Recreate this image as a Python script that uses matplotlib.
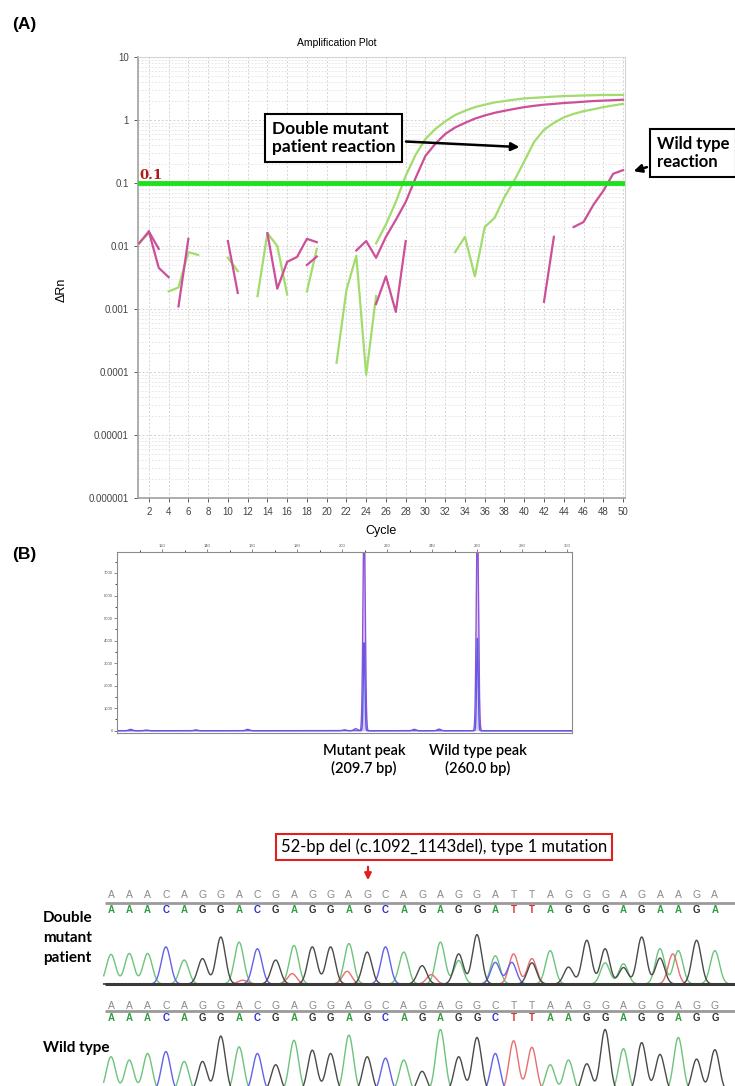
import matplotlib
matplotlib.use("Agg")
import matplotlib.pyplot as plt
import numpy as np

plt.rcParams['font.family'] = ['Liberation Sans', 'DejaVu Sans']

W, H = 735, 1086

def rect(l, t, r, b):  # pixel box -> figure fraction
    return [l / W, 1 - b / H, (r - l) / W, (b - t) / H]

def fx(x):
    return x / W

def fy(y):
    return 1 - y / H

################################################ (A) amplification plot data
threshold = 0.1
# (start cycle, dRn values) -- pieces left after negative values drop out of log axis
green_segs = [
    (1, [0.011, 0.016]),
    (4, [0.0019, 0.0022, 0.008, 0.0072]),
    (10, [0.0065, 0.004]),
    (13, [0.0016, 0.016, 0.01, 0.0017]),
    (18, [0.0019, 0.009]),
    (21, [0.00014, 0.002, 0.007, 0.00009, 0.0016]),
    (25, [0.011, 0.022, 0.05, 0.13, 0.28, 0.5, 0.72, 0.95, 1.2, 1.4, 1.6, 1.75, 1.9,
          2.0, 2.1, 2.2, 2.25, 2.3, 2.35, 2.4, 2.42, 2.45, 2.47, 2.5, 2.5, 2.5]),
    (33, [0.008, 0.014, 0.0033, 0.02, 0.028, 0.06, 0.11, 0.22, 0.45, 0.7, 0.9, 1.1,
          1.25, 1.38, 1.48, 1.6, 1.7, 1.8]),
]
pink_segs = [
    (1, [0.011, 0.017, 0.009]),
    (2, [0.017, 0.0045, 0.0032]),
    (5, [0.0011, 0.013]),
    (10, [0.012, 0.0018]),
    (14, [0.016, 0.0021, 0.0056, 0.0067, 0.013, 0.0115]),
    (18, [0.005, 0.0068]),
    (23, [0.0085, 0.012, 0.0065, 0.014, 0.026, 0.05, 0.12, 0.27, 0.42, 0.6, 0.76, 0.9,
          1.05, 1.18, 1.3, 1.4, 1.5, 1.6, 1.68, 1.75, 1.8, 1.86, 1.9, 1.95, 2.0, 2.03,
          2.06, 2.1]),
    (25, [0.0012, 0.0033, 0.0009, 0.012]),
    (42, [0.0013, 0.014]),
    (45, [0.02, 0.024, 0.045, 0.075, 0.14, 0.16]),
]
a_xticks = list(range(2, 51, 2))
a_yticks = [1e-6, 1e-5, 1e-4, 1e-3, 1e-2, 1e-1, 1, 10]
a_ylabels = ['0.000001', '0.00001', '0.0001', '0.001', '0.01', '0.1', '1', '10']

################################################ (B) fragment analysis data
peak_bp = [209.7, 260.0]
peak_top = [9500, 9500]          # runs off the top of the frame
peak_blue = [3900, 4100]
bump_bp = [106, 113, 135, 158, 201, 206, 232, 243]
bump_h = [60, 30, 40, 60, 40, 90, 60, 70]
b_xticks = list(range(120, 301, 20))
b_yticks = list(range(0, 7001, 1000))

################################################ (C) sequencing data
mut_calls = "AAACAGGACGAGGAGCAGAGGATTAGGGAGAAGA"
mut_hgt = [0.63, 0.65, 0.65, 0.79, 0.51, 0.54, 1.0, 0.89, 0.75, 0.51, 0.82, 0.79, 0.79,
           0.86, 0.68, 0.79, 0.68, 0.39, 0.89, 0.64, 1.05, 0.6, 0.64, 0.54, 0.71, 0.36,
           0.93, 0.75, 0.43, 1.0, 0.75, 0.71, 0.93, 0.71]
mut_extra_pos = [7.2, 9.9, 12.9, 17.5, 19.0, 21.0, 21.9, 23.0, 27.0, 28.0, 30.0, 30.7]
mut_extra_base = ['T', 'T', 'T', 'T', 'A', 'C', 'C', 'G', 'A', 'G', 'G', 'T']
mut_extra_hgt = [0.08, 0.22, 0.27, 0.2, 0.5, 0.46, 0.46, 0.45, 0.45, 0.35, 0.55, 0.64]
wt_calls = "AAACAGGACGAGGAGCAGAGGCTTAAGGAGGAGG"
wt_hgt = [0.75, 0.68, 0.82, 0.86, 0.65, 0.65, 1.19, 0.96, 0.82, 0.58, 1.1, 0.89, 0.82,
          1.21, 0.75, 0.72, 0.68, 0.44, 1.33, 0.75, 1.16, 0.82, 1.09, 0.95, 0.58, 0.68,
          0.6, 1.33, 0.92, 1.05, 0.8, 1.16, 0.7, 0.9]

trace_col = {'A': '#6cc47c', 'C': '#6262ea', 'G': '#4a4a4a', 'T': '#ea6e6e'}
call_col = {'A': '#2f9e3f', 'C': '#2f2fd6', 'G': '#333333', 'T': '#d83030'}

fig = plt.figure(figsize=(W / 100, H / 100), dpi=100)
fig.patch.set_facecolor('white')

###################################################################### panel A
ax = fig.add_axes(rect(138, 57, 625, 498))
ax.set_yscale('log')
ax.set_xlim(0.9, 50.2)
ax.set_ylim(1e-6, 10)
for start, vals in green_segs:
    ax.plot(np.arange(start, start + len(vals)), vals, color='#a2dc6c', lw=1.6, zorder=3)
for start, vals in pink_segs:
    ax.plot(np.arange(start, start + len(vals)), vals, color='#cc4f98', lw=1.6, zorder=3)
ax.axhline(threshold, color='#1ee01e', lw=3.5, zorder=4)
ax.text(1.0, threshold * 1.02, '0.1', color='#b01818', family='DejaVu Serif',
        weight='bold', fontsize=9.5, va='bottom', ha='left', zorder=5)

ax.set_xticks(a_xticks)
ax.set_xticklabels([str(t) for t in a_xticks])
ax.set_yticks(a_yticks)
ax.set_yticklabels(a_ylabels)
ax.tick_params(labelsize=7, colors='#444444', length=3, width=0.6)
ax.tick_params(which='minor', length=0)
ax.grid(True, which='major', color='#d4d4d4', ls=(0, (2, 2)), lw=0.7)
ax.grid(True, which='minor', axis='y', color='#e2e2e2', ls=(0, (2, 2)), lw=0.6)
for s in ['left', 'bottom']:
    ax.spines[s].set_color('#a0a0a0')
    ax.spines[s].set_linewidth(1.2)
for s in ['top', 'right']:
    ax.spines[s].set_color('#d4d4d4')

fig.text(fx(337), fy(43), 'Amplification Plot', ha='center', va='center', fontsize=7.5)
fig.text(fx(62), fy(290), 'ΔRn', rotation=90, ha='center', va='center', fontsize=9)
fig.text(fx(381), fy(531), 'Cycle', ha='center', va='center', fontsize=9)
fig.text(fx(12), fy(25), '(A)', ha='left', va='center', fontsize=12.5, weight='bold')

box_kw = dict(boxstyle='square,pad=0.4', fc='white', ec='black', lw=1.5)
ax.annotate('Double mutant\npatient reaction', xy=(39.8, 0.37), xycoords='data',
            xytext=(fx(272), fy(138)), textcoords='figure fraction',
            ha='left', va='center', fontsize=12.5, weight='bold', family='Lato',
            linespacing=1.2, bbox=box_kw, zorder=6,
            arrowprops=dict(arrowstyle='-|>', color='black', lw=1.8, mutation_scale=12))
ax.annotate('Wild type\nreaction', xy=(fx(631), fy(172)), xycoords='figure fraction',
            xytext=(fx(657), fy(153)), textcoords='figure fraction',
            ha='left', va='center', fontsize=12, weight='bold', family='Lato',
            linespacing=1.2, bbox=box_kw, zorder=6, annotation_clip=False,
            arrowprops=dict(arrowstyle='-|>', color='black', lw=1.8, mutation_scale=12))

###################################################################### panel B
axb = fig.add_axes(rect(117, 552, 572, 733))
axb.set_xlim(100, 302)
axb.set_ylim(-100, 7930)
xb = np.linspace(100, 302, 6000)
purple = np.zeros_like(xb)
blue = np.zeros_like(xb)
for p, h, hb in zip(peak_bp, peak_top, peak_blue):
    purple += h * np.exp(-0.5 * ((xb - p) / 0.5) ** 2)
    blue += hb * np.exp(-0.5 * ((xb - p) / 0.35) ** 2)
for p, h in zip(bump_bp, bump_h):
    blue += h * np.exp(-0.5 * ((xb - p) / 0.8) ** 2)
axb.fill_between(xb, 0, purple, color='#dccdf6', lw=0)
axb.plot(xb, purple, color='#8d52d8', lw=1.0)
axb.plot(xb, blue, color='#5c5ce6', lw=1.0)
axb.xaxis.tick_top()
axb.set_xticks(b_xticks)
axb.set_xticklabels([str(t) for t in b_xticks])
axb.set_xticks(list(range(110, 301, 20)), minor=True)
axb.set_yticks(b_yticks)
axb.set_yticklabels([str(t) for t in b_yticks])
axb.set_yticks(list(range(500, 7501, 1000)), minor=True)
axb.tick_params(labelsize=3, colors='#555555', length=2, width=0.5, pad=1)
axb.tick_params(which='minor', length=1.5, width=0.5)
for s in axb.spines.values():
    s.set_color('#8a8a8a')
    s.set_linewidth(0.8)

lab_kw = dict(ha='center', va='center', fontsize=10.5, family='Lato', weight='semibold')
fig.text(fx(364), fy(751), 'Mutant peak', **lab_kw)
fig.text(fx(364), fy(768), '(209.7 bp)', **lab_kw)
fig.text(fx(478), fy(751), 'Wild type peak', **lab_kw)
fig.text(fx(478), fy(768), '(260.0 bp)', **lab_kw)
fig.text(fx(12), fy(555), '(B)', ha='left', va='center', fontsize=12.5, weight='bold')

###################################################################### panel C
axc = fig.add_axes(rect(0, 820, 735, 1086))
spacing = 18.3
axc.set_xlim(-111 / spacing, (735 - 111) / spacing)
axc.set_ylim(1086, 820)
axc.axis('off')

fig.text(fx(444), fy(847), '52-bp del (c.1092_1143del), type 1 mutation', ha='center',
         va='center', fontsize=12, family='Lato',
         bbox=dict(boxstyle='square,pad=0.3', fc='white', ec='#e02020', lw=1.5))
axc.annotate('', xy=((368 - 111) / spacing, 883), xytext=((368 - 111) / spacing, 864),
             arrowprops=dict(arrowstyle='-|>', color='#e02020', lw=1.6, mutation_scale=10))

xs = np.linspace(-0.4, 34.2, 4000)
sig = 0.25

def channels(calls, hgts, extra=()):
    out = {b: np.zeros_like(xs) for b in 'ACGT'}
    for i, (b, h) in enumerate(zip(calls, hgts)):
        out[b] += h * np.exp(-0.5 * ((xs - i) / sig) ** 2)
    for p, b, h in extra:
        out[b] += h * np.exp(-0.5 * ((xs - p) / sig) ** 2)
    return out

def letter_row(calls, y_gray, y_line, y_col):
    axc.plot([-0.35, 34.2], [y_line, y_line], color='#9a9a9a', lw=2, solid_capstyle='butt')
    for i, b in enumerate(calls):
        axc.text(i, y_gray, b, color='#8a8a8a', fontsize=7.5, ha='center', va='center')
        axc.text(i, y_col, b, color=call_col[b], fontsize=7, weight='bold',
                 ha='center', va='center')

# double mutant row
letter_row(mut_calls, 895, 903, 910)
ch1 = channels(mut_calls, mut_hgt, zip(mut_extra_pos, mut_extra_base, mut_extra_hgt))
for b in 'ATCG':
    axc.plot(xs, 984 - 47 * ch1[b], color=trace_col[b], lw=1.0)
axc.plot([-0.35, 34.2], [984, 984], color='#3a3a3a', lw=2.2, solid_capstyle='butt')

# wild type row
letter_row(wt_calls, 1006, 1011, 1018)
ch2 = channels(wt_calls, wt_hgt)
for b in 'ATCG':
    axc.plot(xs, 1092 - 47 * ch2[b], color=trace_col[b], lw=1.0)

side_kw = dict(ha='left', va='center', fontsize=11, family='Lato', weight='bold')
fig.text(fx(43), fy(918), 'Double', **side_kw)
fig.text(fx(43), fy(938), 'mutant', **side_kw)
fig.text(fx(43), fy(958), 'patient', **side_kw)
fig.text(fx(43), fy(1048), 'Wild type', **side_kw)

fig.savefig('out.png', dpi=100, facecolor='white')
